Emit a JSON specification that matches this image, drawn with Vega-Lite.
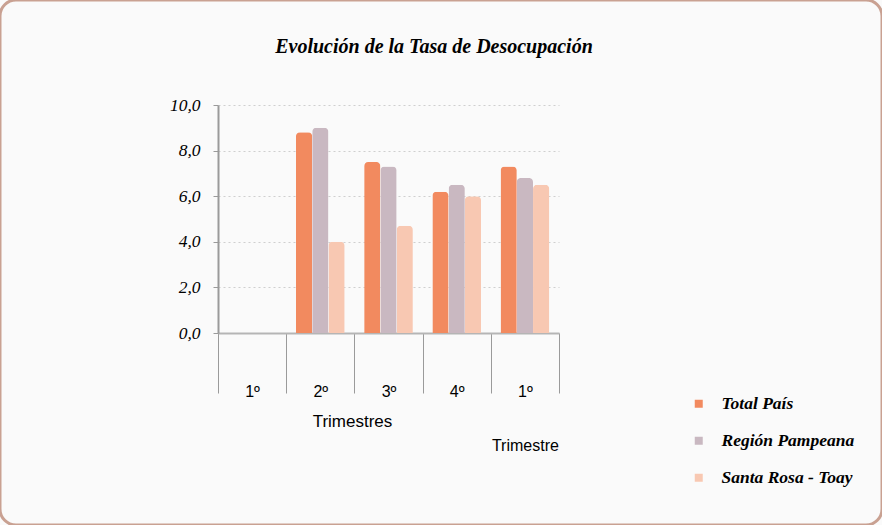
{
  "$schema": "https://vega.github.io/schema/vega-lite/v6.json",
  "width": 882,
  "height": 525,
  "autosize": "none",
  "padding": 0,
  "background": "#fafafa",
  "config": {
    "view": {"stroke": "#c9a192", "strokeWidth": 3, "cornerRadius": 16, "fill": "#fafafa"}
  },
  "title": {
    "text": "Evolución de la Tasa de Desocupación",
    "font": "Liberation Serif",
    "fontSize": 20,
    "fontStyle": "italic",
    "fontWeight": "bold",
    "color": "black",
    "anchor": "middle",
    "frame": "group",
    "offset": -57,
    "dx": -7
  },
  "data": {
    "values": [
      {"trimestre": "1º", "serie": "Total País", "valor": 0},
      {"trimestre": "1º", "serie": "Región Pampeana", "valor": 0},
      {"trimestre": "1º", "serie": "Santa Rosa - Toay", "valor": 0},
      {"trimestre": "2º", "serie": "Total País", "valor": 8.8},
      {"trimestre": "2º", "serie": "Región Pampeana", "valor": 9.0},
      {"trimestre": "2º", "serie": "Santa Rosa - Toay", "valor": 4.0},
      {"trimestre": "3º", "serie": "Total País", "valor": 7.5},
      {"trimestre": "3º", "serie": "Región Pampeana", "valor": 7.3},
      {"trimestre": "3º", "serie": "Santa Rosa - Toay", "valor": 4.7},
      {"trimestre": "4º", "serie": "Total País", "valor": 6.2},
      {"trimestre": "4º", "serie": "Región Pampeana", "valor": 6.5},
      {"trimestre": "4º", "serie": "Santa Rosa - Toay", "valor": 6.0},
      {"trimestre": "1º sig.", "serie": "Total País", "valor": 7.3},
      {"trimestre": "1º sig.", "serie": "Región Pampeana", "valor": 6.8},
      {"trimestre": "1º sig.", "serie": "Santa Rosa - Toay", "valor": 6.5}
    ]
  },
  "mark": {"type": "bar", "cornerRadiusTopLeft": 4, "cornerRadiusTopRight": 4},
  "encoding": {
    "x": {
      "field": "trimestre",
      "type": "nominal",
      "sort": ["1º", "2º", "3º", "4º", "1º sig."],
      "scale": {"range": [218, 559], "paddingInner": 0, "paddingOuter": 0},
      "axis": {
        "orient": "bottom",
        "offset": -192,
        "tickBand": "extent",
        "tickSize": 60,
        "tickColor": "#9a9a9a",
        "domainColor": "#b5b5b5",
        "domainWidth": 2,
        "labelPadding": -10,
        "labelAngle": 0,
        "labelFont": "Liberation Sans",
        "labelFontSize": 16,
        "labelColor": "black",
        "labelLineHeight": 54,
        "labelBaseline": "top",
        "labelExpr": "datum.value == '1º sig.' ? ['1º', 'Trimestre'] : datum.value",
        "title": "Trimestres",
        "titleX": 352,
        "titleY": 88,
        "titleBaseline": "middle",
        "titleFont": "Liberation Sans",
        "titleFontSize": 17,
        "titleFontWeight": "normal",
        "titleColor": "black"
      }
    },
    "xOffset": {
      "field": "serie",
      "type": "nominal",
      "sort": ["Total País", "Región Pampeana", "Santa Rosa - Toay"],
      "scale": {"paddingOuter": 0.6, "paddingInner": 0}
    },
    "y": {
      "field": "valor",
      "type": "quantitative",
      "scale": {"domain": [0, 10], "range": [333, 105], "nice": false, "zero": true},
      "axis": {
        "orient": "left",
        "offset": -218,
        "values": [0, 2, 4, 6, 8, 10],
        "labelExpr": "replace(format(datum.value, '.1f'), '.', ',')",
        "labelFont": "Liberation Serif",
        "labelFontStyle": "italic",
        "labelFontSize": 17.5,
        "labelColor": "black",
        "labelPadding": 13,
        "domainColor": "#9a9a9a",
        "domainWidth": 2,
        "tickColor": "#9a9a9a",
        "tickSize": 5,
        "grid": true,
        "gridColor": "#cfcfcf",
        "gridDash": [2, 3],
        "title": null
      }
    },
    "color": {
      "field": "serie",
      "type": "nominal",
      "sort": ["Total País", "Región Pampeana", "Santa Rosa - Toay"],
      "scale": {
        "domain": ["Total País", "Región Pampeana", "Santa Rosa - Toay"],
        "range": ["#f28a5f", "#c9b8c1", "#f8c8b2"]
      },
      "legend": {
        "orient": "none",
        "legendX": 690,
        "legendY": 395,
        "title": null,
        "symbolType": "square",
        "symbolSize": 64,
        "symbolStrokeWidth": 0,
        "labelFont": "Liberation Serif",
        "labelFontSize": 17.5,
        "labelFontStyle": "italic",
        "labelFontWeight": "bold",
        "labelColor": "black",
        "labelOffset": 14,
        "rowPadding": 18
      }
    }
  }
}
